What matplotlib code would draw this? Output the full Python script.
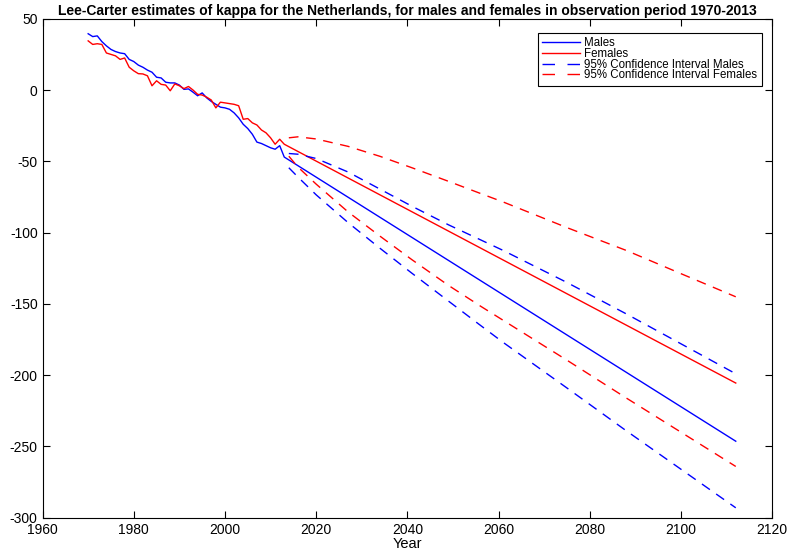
import numpy as np
import matplotlib.pyplot as plt

plt.rcParams['font.family'] = ['Liberation Sans', 'DejaVu Sans']
plt.rcParams['axes.unicode_minus'] = False

# observed kappa, 1970-2013
years = np.arange(1970, 2014)
males = [39.5, 37.5, 38, 34, 31, 28.5, 27, 26, 25.5, 21.5,
         20, 17.5, 16, 14, 12.5, 9, 8.5, 5.5, 5, 5,
         3.5, 0.5, 0.8, -1.5, -4, -2, -5.5, -8, -10, -12,
         -12.5, -13.5, -16, -19.5, -24, -27, -31, -36.5, -37.5, -39,
         -40.5, -41.5, -39, -47]
females = [34.5, 32, 32.5, 32, 26, 25, 24, 21.5, 22.5, 16,
           13.5, 11.5, 11.3, 10, 3, 6.5, 4, 3.5, -0.5, 4.3,
           3, 1, 2.5, 0, -3, -3.5, -5, -7, -12.5, -8.5,
           -9, -9.5, -10, -11, -20.5, -20, -23, -24.5, -28, -30,
           -33.5, -38, -34.5, -38]

# forecast (straight line) 2013-2112
fc_years = [2013, 2112]
males_fc = [-47, -246.3]
females_fc = [-38, -205.5]

# 95% confidence bounds
ci_years = [2014, 2016, 2020, 2027, 2034, 2041, 2049, 2056, 2061, 2075, 2088, 2100, 2112]
males_up = [-44.5, -45, -48, -57.5, -69.5, -81.5, -94.5, -105, -112.5, -135, -157, -178, -199]
males_lo = [-54.5, -61, -73.5, -93, -111, -128.5, -148, -165, -177, -209, -239, -266, -293]
females_up = [-33.5, -32.8, -34.3, -39.5, -46.5, -54.5, -64, -72.5, -78.5, -96.5, -112.5, -128.8, -145]
females_lo = [-46.4, -54, -66, -85.5, -102.5, -119, -137, -151.5, -161.5, -189.5, -216, -240, -264]

fig = plt.figure(figsize=(7.88, 5.52), dpi=100)
ax = fig.add_axes([0.054, 0.062, 0.926, 0.904])

ax.plot(np.concatenate([years, fc_years]), np.concatenate([males, males_fc]),
        color='#0000ff', lw=1.0, label='Males')
ax.plot(np.concatenate([years, fc_years]), np.concatenate([females, females_fc]),
        color='#ff0000', lw=1.0, label='Females')
ax.plot(ci_years, males_up, color='#0000ff', lw=1.0, dashes=(7, 5.5),
        label='95% Confidence Interval Males')
ax.plot(ci_years, males_lo, color='#0000ff', lw=1.0, dashes=(7, 5.5))
ax.plot(ci_years, females_up, color='#ff0000', lw=1.0, dashes=(7, 5.5),
        label='95% Confidence Interval Females')
ax.plot(ci_years, females_lo, color='#ff0000', lw=1.0, dashes=(7, 5.5))

ax.set_xlim(1960, 2120)
ax.set_ylim(-300, 50)
ax.set_xticks(np.arange(1960, 2121, 20))
ax.set_yticks(np.arange(-300, 51, 50))
ax.tick_params(direction='in', top=True, right=True, labelsize=10, length=5, width=0.8)
for s in ax.spines.values():
    s.set_linewidth(0.8)

ax.set_title('Lee-Carter estimates of kappa for the Netherlands, for males and females in observation period 1970-2013',
             fontsize=10, fontweight='bold', pad=3)
ax.set_xlabel('Year', fontsize=10.5, labelpad=0)

leg = ax.legend(loc='upper right', bbox_to_anchor=(0.986, 0.972), fontsize=8.3,
                frameon=True, fancybox=False, edgecolor='black', framealpha=1,
                handlelength=3.3, labelspacing=-0.12, borderpad=0.4,
                borderaxespad=0, handletextpad=0.35)
leg.get_frame().set_linewidth(0.8)
# legend shows longer dashes than the plotted lines
for ln in leg.get_lines()[2:]:
    ln.set_linestyle((0, (9, 9)))

plt.savefig('out.png', dpi=100)
